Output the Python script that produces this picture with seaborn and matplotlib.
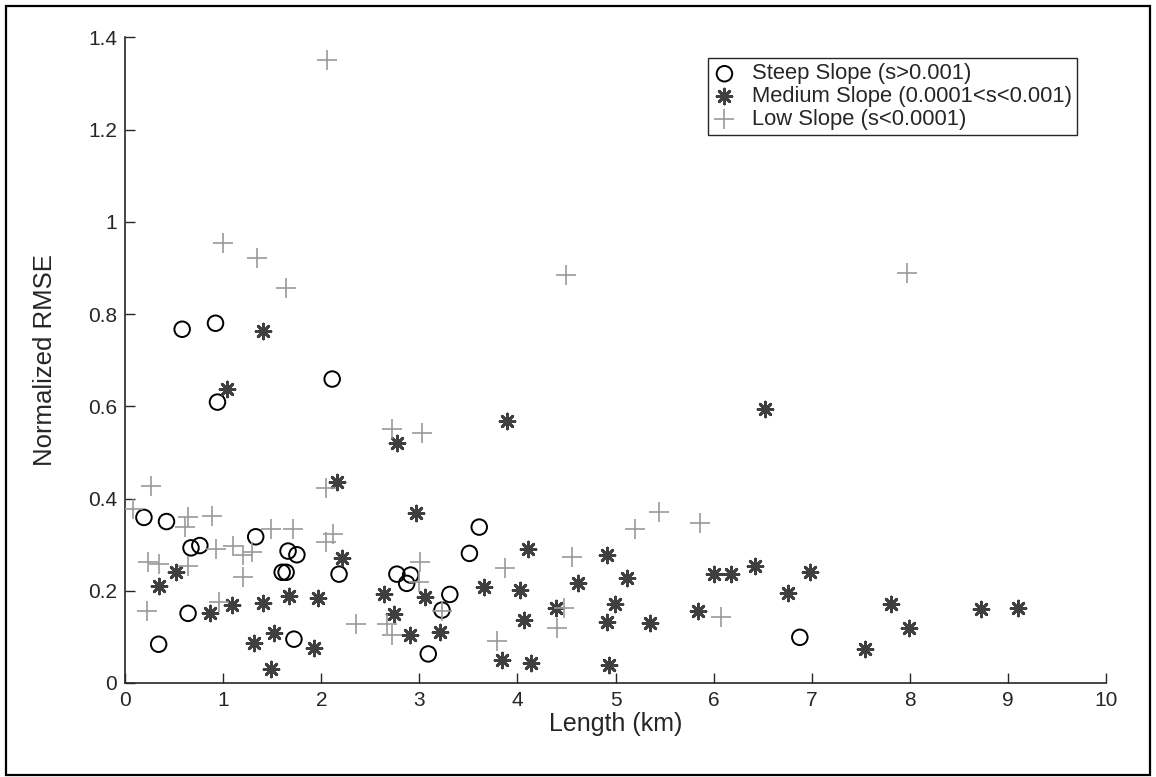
import numpy as np
import pandas as pd
import matplotlib
matplotlib.use("Agg")
import matplotlib.pyplot as plt
from matplotlib.patches import Rectangle
from matplotlib.ticker import FuncFormatter
import seaborn as sns

# Steep slope reaches (s > 0.001)
steep_len = [0.58, 0.92, 0.94, 2.11, 0.19, 0.42, 1.33, 0.67, 0.76, 1.66, 1.75, 1.60, 1.64,
             2.18, 0.64, 0.34, 1.72, 3.61, 3.51, 2.77, 2.91, 2.87, 3.31, 3.23, 3.09, 6.88]
steep_rmse = [0.767, 0.780, 0.609, 0.659, 0.359, 0.350, 0.317, 0.293, 0.298, 0.286, 0.278, 0.240, 0.240,
              0.236, 0.151, 0.084, 0.095, 0.338, 0.281, 0.236, 0.234, 0.216, 0.192, 0.158, 0.063, 0.099]

# Medium slope reaches (0.0001 < s < 0.001)
medium_len = [1.40, 1.04, 2.16, 2.21, 0.52, 0.34, 0.86, 1.09, 1.40, 1.67, 1.97, 1.52, 1.31, 1.92,
              1.49, 2.77, 3.89, 2.97, 4.11, 4.91, 2.64, 3.06, 3.66, 4.03, 4.62, 2.74, 2.90, 3.21,
              3.84, 4.14, 4.07, 4.39, 4.91, 4.93, 5.12, 4.99, 5.35, 5.84, 6.00, 6.18, 6.42, 6.76,
              6.98, 6.52, 7.81, 7.99, 7.54, 8.73, 9.11]
medium_rmse = [0.764, 0.638, 0.435, 0.272, 0.240, 0.211, 0.151, 0.169, 0.173, 0.189, 0.185, 0.108, 0.086, 0.075,
               0.030, 0.520, 0.569, 0.368, 0.290, 0.278, 0.192, 0.186, 0.208, 0.202, 0.216, 0.149, 0.104, 0.111,
               0.050, 0.044, 0.137, 0.162, 0.133, 0.039, 0.228, 0.171, 0.131, 0.156, 0.236, 0.236, 0.254, 0.196,
               0.241, 0.594, 0.171, 0.119, 0.074, 0.160, 0.163]

# Low slope reaches (s < 0.0001)
low_len = [0.26, 2.05, 0.08, 0.64, 0.61, 0.88, 1.49, 1.71, 0.93, 1.10, 1.20, 1.29, 2.05, 2.12,
           0.23, 0.34, 0.64, 1.20, 0.22, 0.96, 2.35, 2.72, 3.03, 3.01, 3.87, 4.56, 3.00, 2.67,
           2.72, 3.23, 3.79, 4.47, 4.40, 5.20, 5.44, 5.86, 6.08, 2.06, 1.00, 1.34, 1.64, 4.49, 7.97]
low_rmse = [0.427, 0.422, 0.377, 0.359, 0.338, 0.362, 0.334, 0.334, 0.290, 0.298, 0.278, 0.285, 0.305, 0.323,
            0.262, 0.258, 0.254, 0.229, 0.156, 0.176, 0.128, 0.550, 0.542, 0.263, 0.250, 0.274, 0.220, 0.128,
            0.104, 0.155, 0.092, 0.162, 0.120, 0.333, 0.370, 0.346, 0.144, 1.351, 0.954, 0.921, 0.856, 0.885, 0.888]

labels = ["Steep Slope (s>0.001)", "Medium Slope (0.0001<s<0.001)", "Low Slope (s<0.0001)"]
x_ticks = list(range(0, 11))
y_ticks = [0, 0.2, 0.4, 0.6, 0.8, 1.0, 1.2, 1.4]

sns.set_style("ticks")
plt.rcParams["font.family"] = ["Liberation Sans", "DejaVu Sans"]
ink = "#262626"

fig = plt.figure(figsize=(11.56, 7.77), dpi=100)
ax = fig.add_axes([0.1084, 0.1210, 0.8481, 0.8310])

steep = pd.DataFrame({"length": steep_len, "rmse": steep_rmse})
medium = pd.DataFrame({"length": medium_len, "rmse": medium_rmse})
low = pd.DataFrame({"length": low_len, "rmse": low_rmse})

sns.scatterplot(data=steep, x="length", y="rmse", ax=ax, marker="o", s=125,
                color="black", facecolor="none", edgecolor="black", linewidth=1.4,
                label=labels[0], zorder=3)
sns.scatterplot(data=medium, x="length", y="rmse", ax=ax, marker=(8, 2, 0), s=115,
                color="#3f3f3f", linewidth=2.0, label=labels[1], zorder=3)
sns.scatterplot(data=low, x="length", y="rmse", ax=ax, marker="+", s=190,
                color="#9a9a9a", linewidth=1.2, label=labels[2], zorder=3)

ax.set_xlim(0, 10)
ax.set_ylim(0, 1.4)
ax.set_xticks(x_ticks)
ax.set_yticks(y_ticks)
ax.yaxis.set_major_formatter(FuncFormatter(lambda v, p: f"{v:g}"))
ax.tick_params(direction="in", length=7, width=1.0, color=ink, labelcolor=ink,
               labelsize=15, pad=6)
for side in ("top", "right"):
    ax.spines[side].set_visible(False)
for side in ("left", "bottom"):
    ax.spines[side].set_color(ink)
    ax.spines[side].set_linewidth(1.2)

ax.set_xlabel("Length (km)", fontsize=18, color=ink, labelpad=1)
ax.set_ylabel("Normalized RMSE", fontsize=18.5, color=ink, labelpad=22)

leg = ax.legend(loc="upper left", bbox_to_anchor=(708 / 1156, 1 - 58 / 777),
                bbox_transform=fig.transFigure, fontsize=15.8, frameon=True,
                fancybox=False, framealpha=1, edgecolor=ink, handlelength=1.0,
                handletextpad=0.75, borderpad=0.25, labelspacing=0.08, borderaxespad=0)
leg.get_frame().set_linewidth(1.0)
for t in leg.get_texts():
    t.set_color(ink)

# outer frame around the whole figure
fig.patches.append(Rectangle((6 / 1156, 2.5 / 777), 1144 / 1156, 768.5 / 777,
                             transform=fig.transFigure, fill=False,
                             edgecolor="black", linewidth=1.6))

fig.savefig("out.png", dpi=100, facecolor="white")
